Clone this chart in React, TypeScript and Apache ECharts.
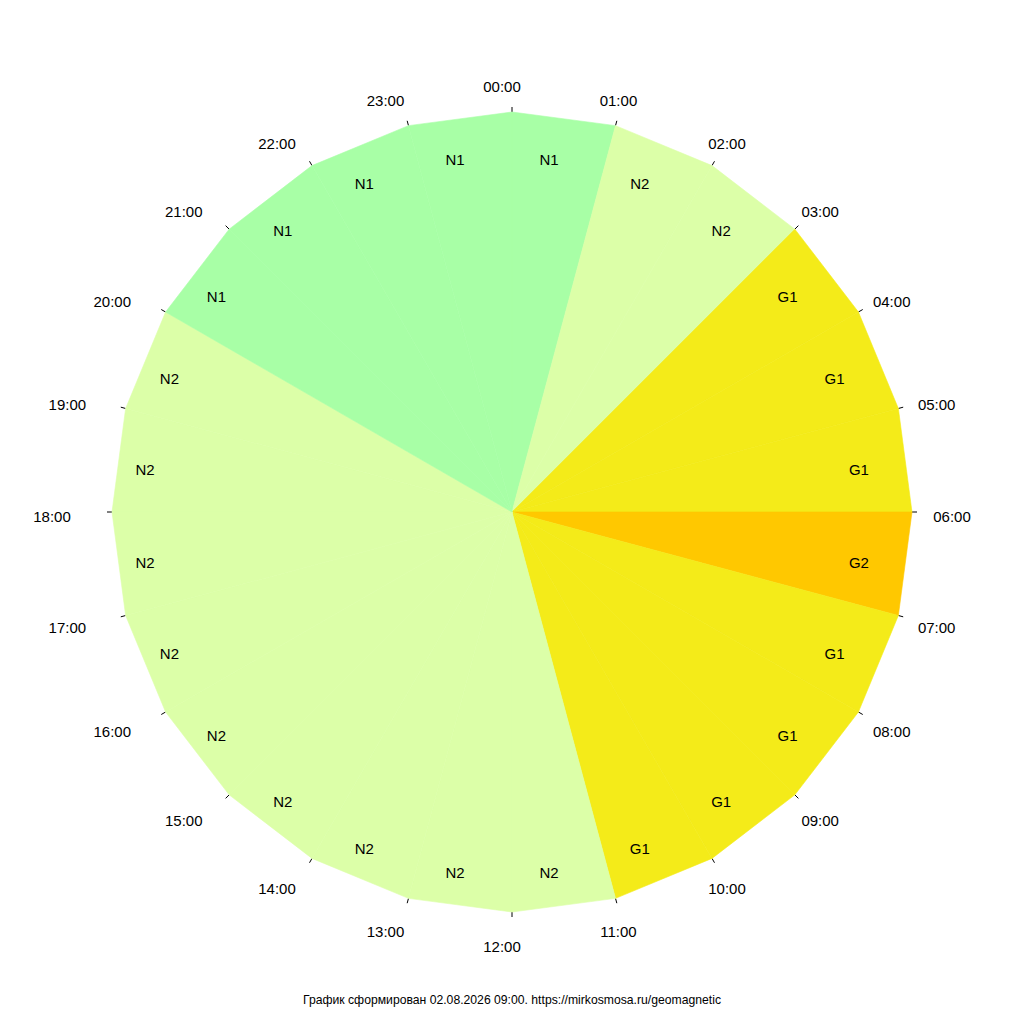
import React, { useEffect, useRef } from "react";
import * as echarts from "echarts";

const hourLabels = [
  "00:00", "01:00", "02:00", "03:00", "04:00", "05:00",
  "06:00", "07:00", "08:00", "09:00", "10:00", "11:00",
  "12:00", "13:00", "14:00", "15:00", "16:00", "17:00",
  "18:00", "19:00", "20:00", "21:00", "22:00", "23:00",
];

// level of each hour interval, starting at 00:00-01:00
const levels = [
  "N1", "N2", "N2", "G1", "G1", "G1",
  "G2", "G1", "G1", "G1", "G1", "N2",
  "N2", "N2", "N2", "N2", "N2", "N2",
  "N2", "N2", "N1", "N1", "N1", "N1",
];

const levelNames = ["N1", "N2", "G1", "G2"];
const levelColors = ["#a8ffa6", "#dcffa8", "#f4eb19", "#ffc800"];

const footerText =
  "График сформирован 02.08.2026 09:00. https://mirkosmosa.ru/geomagnetic";

const FONT = "'Liberation Sans', Arial, sans-serif";

export default function App() {
  const ref = useRef<HTMLDivElement>(null);

  useEffect(() => {
    document.body.style.margin = "0";
    const chart = echarts.init(ref.current as HTMLDivElement, null, { renderer: "svg" });

    const colorOf = (l: string) => levelColors[levelNames.indexOf(l)];

    const option: any = {
      animation: false,
      backgroundColor: "#ffffff",
      polar: { center: ["50%", "50%"], radius: 400 },
      angleAxis: {
        type: "value",
        min: 0,
        max: 24,
        interval: 1,
        startAngle: 90,
        clockwise: true,
        axisLine: { show: false },
        axisTick: { show: true, length: 5, lineStyle: { color: "#000", width: 1 } },
        axisLabel: { show: false },
        splitLine: { show: false },
      },
      radiusAxis: { type: "value", min: 0, max: 1, show: false },
      series: [
        {
          type: "custom",
          coordinateSystem: "polar",
          z: 2,
          data: levels.map((l, i) => ({ name: l, value: [1, i] })),
          renderItem: (params: any, api: any) => {
            const i = api.value(1);
            const lvl = levels[params.dataIndex];
            const c = api.coord([0, i]);
            const p1 = api.coord([1, i]);
            const p2 = api.coord([1, i + 1]);
            const lp = api.coord([0.9, i + 0.5]);
            const col = colorOf(lvl);
            return {
              type: "group",
              children: [
                {
                  type: "polygon",
                  shape: { points: [c, p1, p2] },
                  style: { fill: col, stroke: col, lineWidth: 0.6 },
                },
                {
                  type: "text",
                  z2: 10,
                  style: {
                    text: lvl,
                    x: lp[0] - 10,
                    y: lp[1] + 4,
                    align: "center",
                    verticalAlign: "middle",
                    textAlign: "center",
                    textVerticalAlign: "middle",
                    fill: "#000",
                    fontSize: 15,
                    fontFamily: FONT,
                  },
                },
              ],
            };
          },
        },
        {
          type: "custom",
          coordinateSystem: "polar",
          z: 3,
          data: hourLabels.map((t, i) => ({ name: t, value: [1, i] })),
          renderItem: (params: any, api: any) => {
            const i = api.value(1);
            const c = api.coord([0, 0]);
            const p = api.coord([1, i]);
            const x = c[0] + (p[0] - c[0]) * (450 / 400) - 10;
            const y = c[1] + (p[1] - c[1]) * (430 / 400) + 4;
            return {
              type: "text",
              style: {
                text: hourLabels[params.dataIndex],
                x,
                y,
                align: "center",
                verticalAlign: "middle",
                textAlign: "center",
                textVerticalAlign: "middle",
                fill: "#000",
                fontSize: 15,
                fontFamily: FONT,
              },
            };
          },
        },
      ],
      graphic: [
        {
          type: "text",
          x: 512,
          y: 1000,
          style: {
            text: footerText,
            align: "center",
            verticalAlign: "middle",
            fill: "#000",
            fontSize: 12.2,
            fontFamily: FONT,
          },
        },
      ],
    };

    chart.setOption(option);
    return () => chart.dispose();
  }, []);

  return (
    <div
      ref={ref}
      style={{ position: "absolute", left: 0, top: 0, width: 1024, height: 1024 }}
    />
  );
}
